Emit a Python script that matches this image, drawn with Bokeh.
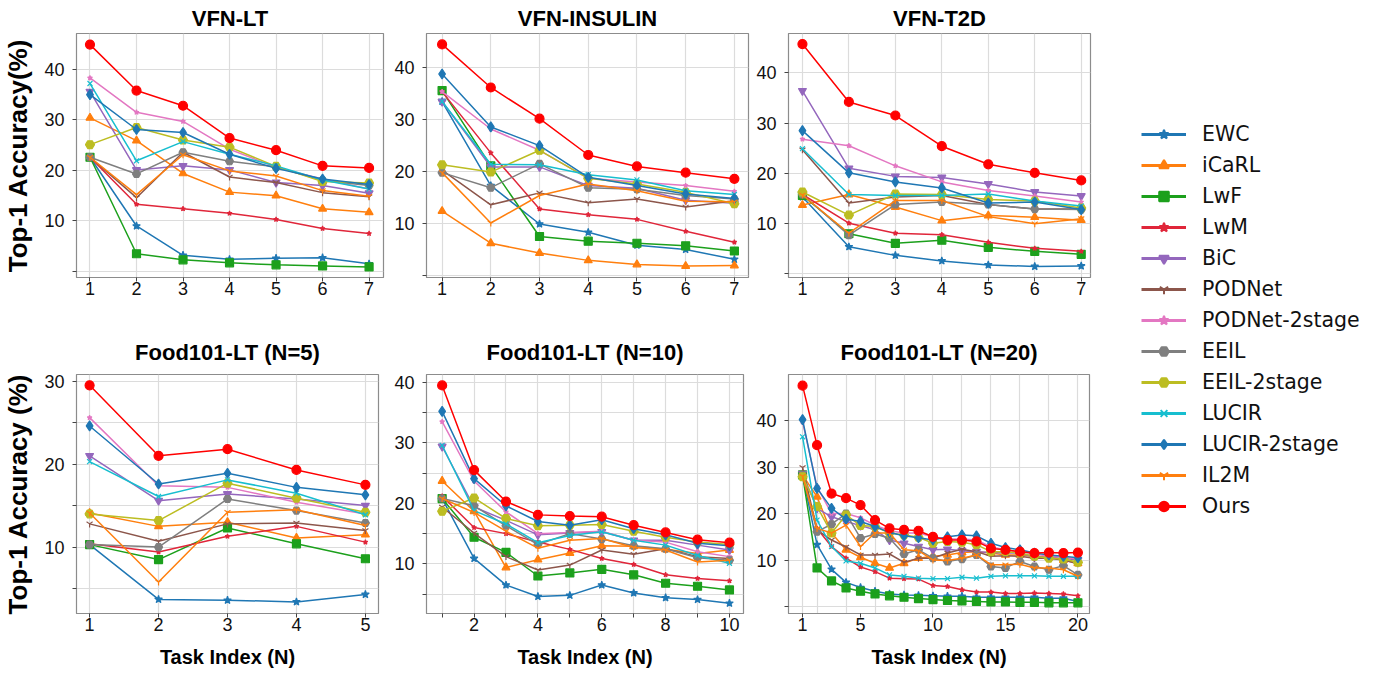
from bokeh.plotting import figure
from bokeh.models import FixedTicker, Range1d, Legend, LegendItem
from bokeh.layouts import row, column
from bokeh.embed import file_html
from bokeh.resources import INLINE

METHODS = ["EWC", "iCaRL", "LwF", "LwM", "BiC", "PODNet", "PODNet-2stage",
           "EEIL", "EEIL-2stage", "LUCIR", "LUCIR-2stage", "IL2M", "Ours"]

TASKS_7 = [1, 2, 3, 4, 5, 6, 7]
TASKS_5 = [1, 2, 3, 4, 5]
TASKS_10 = [1, 2, 3, 4, 5, 6, 7, 8, 9, 10]
TASKS_20 = list(range(1, 21))

VFN_LT = {
    "EWC": [22.6, 9.0, 3.2, 2.4, 2.6, 2.7, 1.5],
    "iCaRL": [30.4, 25.9, 19.4, 15.7, 15.0, 12.4, 11.7],
    "LwF": [22.6, 3.5, 2.3, 1.7, 1.3, 1.1, 0.9],
    "LwM": [22.6, 13.3, 12.4, 11.5, 10.3, 8.5, 7.5],
    "BiC": [35.6, 20.1, 20.9, 20.1, 17.6, 17.0, 15.5],
    "PODNet": [22.6, 14.6, 23.6, 18.7, 17.6, 15.6, 14.8],
    "PODNet-2stage": [38.3, 31.5, 29.7, 24.2, 20.6, 18.3, 16.3],
    "EEIL": [22.6, 19.3, 23.6, 21.8, 20.7, 18.0, 17.0],
    "EEIL-2stage": [25.1, 28.5, 26.0, 24.6, 20.8, 17.8, 17.5],
    "LUCIR": [37.2, 21.9, 25.7, 23.2, 20.9, 18.1, 16.3],
    "LUCIR-2stage": [35.0, 28.1, 27.5, 23.2, 20.4, 18.3, 17.2],
    "IL2M": [22.6, 15.2, 23.1, 19.9, 18.9, 16.0, 14.9],
    "Ours": [44.9, 35.8, 32.8, 26.4, 24.0, 20.9, 20.5],
}

VFN_INSULIN = {
    "EWC": [33.5, 17.3, 9.9, 8.3, 5.8, 5.0, 3.1],
    "iCaRL": [12.4, 6.2, 4.3, 2.9, 2.1, 1.8, 1.9],
    "LwF": [35.6, 21.1, 7.5, 6.6, 6.2, 5.7, 4.7],
    "LwM": [35.4, 23.6, 12.8, 11.7, 10.8, 8.5, 6.4],
    "BiC": [33.5, 20.9, 20.9, 17.3, 16.8, 14.5, 13.9],
    "PODNet": [20.3, 13.6, 15.9, 14.0, 14.7, 13.2, 14.4],
    "PODNet-2stage": [35.4, 28.2, 24.1, 18.7, 18.0, 17.3, 16.2],
    "EEIL": [19.8, 16.9, 21.5, 16.9, 16.6, 15.4, 14.7],
    "EEIL-2stage": [21.3, 19.9, 24.1, 18.7, 17.6, 16.0, 13.8],
    "LUCIR": [33.5, 21.4, 21.3, 19.4, 18.4, 16.3, 15.6],
    "LUCIR-2stage": [38.8, 28.6, 25.0, 18.9, 17.3, 15.7, 14.8],
    "IL2M": [19.8, 10.1, 15.4, 17.6, 16.3, 14.3, 14.2],
    "Ours": [44.5, 36.2, 30.2, 23.2, 21.0, 19.8, 18.6],
}

VFN_T2D = {
    "EWC": [15.3, 5.4, 3.7, 2.6, 1.8, 1.5, 1.6],
    "iCaRL": [13.7, 15.8, 13.3, 10.6, 11.6, 11.3, 10.7],
    "LwF": [15.6, 8.0, 6.1, 6.7, 5.3, 4.5, 3.9],
    "LwM": [15.8, 10.1, 8.1, 7.8, 6.3, 5.1, 4.5],
    "BiC": [36.4, 21.0, 19.4, 19.2, 17.9, 16.3, 15.5],
    "PODNet": [24.7, 14.1, 15.3, 15.6, 13.8, 12.9, 12.9],
    "PODNet-2stage": [26.8, 25.5, 21.5, 18.3, 16.6, 15.5, 14.3],
    "EEIL": [15.8, 7.7, 13.8, 14.3, 13.8, 12.9, 12.8],
    "EEIL-2stage": [16.3, 11.7, 15.9, 15.8, 14.8, 14.5, 13.1],
    "LUCIR": [24.9, 15.8, 15.6, 15.6, 15.9, 14.5, 13.5],
    "LUCIR-2stage": [28.5, 20.1, 18.3, 17.1, 14.1, 14.3, 12.8],
    "IL2M": [15.7, 8.1, 14.6, 14.6, 11.4, 10.0, 11.0],
    "Ours": [45.7, 34.2, 31.5, 25.4, 21.8, 20.1, 18.6],
}

FOOD_N5 = {
    "EWC": [10.3, 3.7, 3.6, 3.4, 4.3],
    "iCaRL": [14.1, 12.5, 13.0, 11.1, 11.5],
    "LwF": [10.3, 8.5, 12.3, 10.4, 8.6],
    "LwM": [10.4, 9.4, 11.3, 12.5, 10.6],
    "BiC": [21.0, 15.6, 16.4, 15.8, 15.0],
    "PODNet": [12.8, 10.7, 12.8, 12.9, 12.0],
    "PODNet-2stage": [25.6, 17.4, 17.2, 15.4, 14.0],
    "EEIL": [10.3, 10.0, 15.8, 14.4, 12.9],
    "EEIL-2stage": [14.0, 13.2, 17.7, 15.9, 14.2],
    "LUCIR": [20.3, 16.1, 18.1, 16.5, 13.9],
    "LUCIR-2stage": [24.6, 17.6, 18.9, 17.2, 16.3],
    "IL2M": [14.1, 5.8, 14.2, 14.5, 12.6],
    "Ours": [29.5, 21.0, 21.8, 19.3, 17.5],
}

FOOD_N10 = {
    "EWC": [20.8, 10.9, 6.5, 4.6, 4.8, 6.5, 5.2, 4.4, 4.1, 3.5],
    "iCaRL": [23.7, 18.7, 9.4, 10.7, 11.8, 13.0, 12.9, 12.4, 11.7, 12.3],
    "LwF": [20.8, 14.4, 11.9, 8.0, 8.5, 9.1, 8.2, 6.8, 6.3, 5.7],
    "LwM": [21.2, 16.0, 15.0, 13.6, 12.4, 10.9, 9.9, 8.2, 7.6, 7.2],
    "BiC": [29.4, 19.4, 17.2, 14.8, 15.1, 15.3, 13.9, 13.9, 13.1, 12.3],
    "PODNet": [19.4, 15.1, 11.2, 9.0, 9.8, 12.3, 11.6, 12.5, 11.2, 10.9],
    "PODNet-2stage": [33.5, 23.7, 18.6, 15.0, 15.2, 15.4, 13.9, 13.6, 12.0, 11.2],
    "EEIL": [20.8, 19.6, 16.3, 13.2, 15.0, 14.1, 13.0, 12.5, 11.0, 10.6],
    "EEIL-2stage": [18.7, 20.9, 17.5, 16.3, 16.4, 16.5, 15.4, 14.4, 13.6, 13.2],
    "LUCIR": [29.6, 18.8, 16.6, 13.5, 14.7, 15.3, 13.9, 13.1, 11.4, 10.1],
    "LUCIR-2stage": [35.2, 24.1, 19.6, 17.0, 16.4, 17.3, 15.8, 14.8, 13.4, 13.0],
    "IL2M": [20.8, 18.5, 15.4, 12.6, 13.9, 14.2, 12.7, 12.3, 10.3, 10.6],
    "Ours": [39.5, 25.5, 20.3, 18.1, 17.9, 17.8, 16.4, 15.2, 14.0, 13.5],
}

FOOD_N20 = {
    "EWC": [28.4, 13.4, 8.1, 5.3, 4.2, 3.4, 2.8, 2.6, 2.5, 2.4,
            2.3, 2.3, 2.1, 2.1, 2.1, 2.1, 2.1, 1.9, 1.9, 1.2],
    "iCaRL": [28.4, 23.7, 15.9, 12.3, 10.7, 9.4, 8.4, 9.4, 10.5, 10.9,
              11.2, 11.7, 11.9, 11.6, 11.2, 11.2, 10.9, 10.7, 10.1, 9.4],
    "LwF": [28.4, 8.4, 5.6, 4.1, 3.4, 2.8, 2.4, 2.1, 1.8, 1.6,
            1.4, 1.3, 1.2, 1.1, 1.1, 1.0, 1.0, 0.9, 0.9, 0.9],
    "LwM": [28.4, 16.9, 13.0, 10.5, 8.6, 7.6, 6.2, 6.1, 6.0, 4.6,
            4.4, 3.7, 3.2, 3.2, 2.9, 2.9, 3.0, 2.9, 2.8, 2.4],
    "BiC": [28.7, 21.2, 19.4, 18.4, 17.5, 16.6, 14.4, 13.7, 13.0, 12.3,
            12.4, 12.1, 11.9, 11.7, 11.6, 11.6, 10.7, 10.7, 10.5, 10.1],
    "PODNet": [30.0, 16.6, 14.4, 12.9, 11.2, 11.2, 11.4, 9.6, 10.5, 10.5,
               11.6, 12.4, 11.9, 10.9, 11.0, 10.9, 10.5, 10.5, 10.1, 9.3],
    "PODNet-2stage": [39.8, 25.9, 20.1, 20.1, 19.2, 17.6, 16.4, 15.9, 15.9, 15.1,
                      14.6, 14.6, 14.4, 12.9, 12.3, 11.9, 11.4, 10.9, 10.7, 10.3],
    "EEIL": [28.4, 16.2, 17.8, 20.1, 14.8, 15.7, 14.8, 11.4, 12.3, 10.5,
             9.8, 10.3, 11.2, 8.7, 8.4, 9.8, 8.7, 8.0, 8.9, 6.9],
    "EEIL-2stage": [28.0, 21.6, 15.9, 19.8, 17.5, 17.3, 15.9, 15.5, 15.0, 13.7,
                    14.1, 13.9, 13.4, 11.9, 11.9, 11.6, 10.9, 10.5, 10.3, 9.6],
    "LUCIR": [36.6, 18.7, 13.0, 9.9, 9.4, 8.4, 6.9, 6.6, 6.2, 6.1,
              6.1, 6.4, 6.2, 6.6, 6.7, 6.7, 6.7, 6.6, 6.6, 6.6],
    "LUCIR-2stage": [40.3, 25.5, 21.2, 18.9, 18.4, 17.3, 16.0, 15.3, 14.9, 14.4,
                     15.1, 15.5, 15.3, 13.7, 12.8, 12.3, 11.6, 11.2, 10.9, 10.6],
    "IL2M": [28.1, 16.9, 15.9, 17.6, 13.0, 15.9, 15.9, 12.3, 12.1, 10.1,
             10.0, 10.5, 11.2, 9.1, 9.1, 9.2, 8.4, 8.4, 8.0, 6.6],
    "Ours": [47.6, 34.8, 24.4, 23.4, 21.9, 18.7, 16.9, 16.6, 16.4, 15.1,
             14.4, 14.4, 14.1, 12.6, 12.3, 11.9, 11.6, 11.7, 11.6, 11.7],
}

# style: colour, marker, plot size, legend size
STYLE = {
    "EWC": ("#1f77b4", "star", 8, 12),
    "iCaRL": ("#ff7f0e", "triangle", 8, 14),
    "LwF": ("#1ca01c", "square", 8, 13),
    "LwM": ("#e0263a", "star", 5, 8),
    "BiC": ("#9467bd", "inverted_triangle", 8, 14),
    "PODNet": ("#8c564b", "y", 7, 11),
    "PODNet-2stage": ("#e377c2", "star", 5, 8),
    "EEIL": ("#7f7f7f", "hex", 8, 13),
    "EEIL-2stage": ("#bcbd22", "hex", 9, 14),
    "LUCIR": ("#17becf", "x", 7, 12),
    "LUCIR-2stage": ("#1f77b4", "diamond", 10, 16),
    "IL2M": ("#ff7f0e", "y", 7, 11),
    "Ours": ("#ff0000", "circle", 9, 14),
}

FONT = "Liberation Sans"


def panel(title, tasks, data, xr, yr, xticks, xhide, xgrid, yticks, yhide,
          fw, fh, left, right, top, bottom, title_standoff,
          ylabel=None, xlabel=None):
    p = figure(frame_width=fw, frame_height=fh,
               x_range=Range1d(*xr), y_range=Range1d(*yr),
               min_border_left=left, min_border_right=right,
               min_border_top=top, min_border_bottom=bottom,
               output_backend="svg", toolbar_location=None, title=title)
    p.title.align = "center"
    p.title.text_font = FONT
    p.title.text_font_size = "22px"
    p.title.text_font_style = "bold"
    p.title.text_color = "#000000"
    p.title.standoff = title_standoff
    p.outline_line_color = "#8c8c8c"
    p.outline_line_width = 1.2

    p.xaxis.ticker = FixedTicker(ticks=xticks)
    p.yaxis.ticker = FixedTicker(ticks=yticks)
    p.xaxis.major_label_overrides = {t: "" for t in xhide}
    p.yaxis.major_label_overrides = {t: "" for t in yhide}
    p.xgrid.ticker = FixedTicker(ticks=xgrid)
    p.ygrid.ticker = FixedTicker(ticks=yticks)
    for ax in (p.xaxis, p.yaxis):
        ax.axis_line_color = "#8c8c8c"
        ax.major_tick_line_color = "#444444"
        ax.major_tick_out = 4
        ax.major_tick_in = 0
        ax.minor_tick_line_color = None
        ax.major_label_text_font = FONT
        ax.major_label_text_font_size = "18px"
        ax.major_label_text_color = "#111111"
        ax.axis_label_text_font = FONT
        ax.axis_label_text_font_style = "bold"
        ax.axis_label_text_color = "#000000"
    p.yaxis.major_label_standoff = 8
    p.xaxis.major_label_standoff = 0
    p.grid.grid_line_color = "#dcdcdc"
    p.grid.grid_line_width = 1.2

    if ylabel:
        p.yaxis.axis_label = ylabel
        p.yaxis.axis_label_text_font_size = "26px"
        p.yaxis.axis_label_standoff = 8
    if xlabel:
        p.xaxis.axis_label = xlabel
        p.xaxis.axis_label_text_font_size = "20px"
        p.xaxis.axis_label_standoff = 12

    for m in METHODS:
        c, mk, sz, _ = STYLE[m]
        p.line(tasks, data[m], line_color=c, line_width=1.5)
        p.scatter(tasks, data[m], marker=mk, size=sz, fill_color=c,
                  line_color=c, line_width=1.2)
    return p


Y10 = [0, 10, 20, 30, 40]
Y5_30 = [5, 10, 15, 20, 25, 30]
Y5_40 = [5, 10, 15, 20, 25, 30, 35, 40]

p1 = panel("VFN-LT", TASKS_7, VFN_LT, (0.71, 7.31), (-1.2, 47.1),
           TASKS_7, [], TASKS_7, Y10, [0],
           307, 244, 70, 8, 31, 51, 6, ylabel="Top-1 Accuracy(%)")
p2 = panel("VFN-INSULIN", TASKS_7, VFN_INSULIN, (0.68, 7.29), (-0.4, 46.6),
           TASKS_7, [], TASKS_7, Y10, [0],
           322, 244, 32, 5, 31, 51, 6)
p3 = panel("VFN-T2D", TASKS_7, VFN_T2D, (0.70, 7.20), (-0.7, 47.8),
           TASKS_7, [], TASKS_7, Y10, [0],
           302, 244, 32, 20, 31, 51, 6)

p4 = panel("Food101-LT (N=5)", TASKS_5, FOOD_N5, (0.81, 5.19), (2.0, 30.8),
           TASKS_5, [], TASKS_5, Y5_30, [5, 15, 25],
           302, 239, 72, 13, 46, 58, 19,
           ylabel="Top-1 Accuracy (%)", xlabel="Task Index (N)")
p5 = panel("Food101-LT (N=10)", TASKS_10, FOOD_N10, (0.51, 10.44), (1.8, 41.3),
           TASKS_10, [1, 3, 5, 7, 9], TASKS_10, Y5_40, [5, 15, 25, 35],
           317, 239, 32, 10, 46, 58, 19, xlabel="Task Index (N)")
p6 = panel("Food101-LT (N=20)", TASKS_20, FOOD_N20, (0.03, 20.8), (-1.4, 50.0),
           [1, 5, 10, 15, 20], [], [1, 2, 4, 6, 8, 10, 12, 14, 16, 18, 20],
           Y10, [0],
           301, 239, 32, 20, 46, 58, 19, xlabel="Task Index (N)")

# legend panel (its dummy renderers lie outside the visible range)
LEG_H = 669
leg = figure(width=269, height=LEG_H, x_range=Range1d(100, 101), y_range=Range1d(100, 101),
             output_backend="svg", toolbar_location=None, min_border=0,
             x_axis_location=None, y_axis_location=None)
leg.grid.visible = False
leg.outline_line_color = None
items = []
for m in METHODS:
    c, mk, _, lsz = STYLE[m]
    lr = leg.line(TASKS_7, VFN_LT[m], line_color=c, line_width=3)
    sr = leg.scatter(TASKS_7[:1], VFN_LT[m][:1], marker=mk, size=lsz,
                     fill_color=c, line_color=c, line_width=2)
    items.append(LegendItem(label=m, renderers=[lr, sr]))
ITEM_H, GAP = 24, 7
legend_total = 13 * ITEM_H + 12 * GAP + 20
legend = Legend(items=items, location=(31, LEG_H - 102 - legend_total),
                glyph_width=45, glyph_height=ITEM_H, label_height=ITEM_H, spacing=GAP,
                label_standoff=16, padding=0, margin=0,
                border_line_color=None, background_fill_alpha=0,
                label_text_font="DejaVu Sans", label_text_font_size="20.5px",
                label_text_color="#111111")
leg.add_layout(legend)

layout = row(column(row(p1, p2, p3), row(p4, p5, p6)), leg)

open("out.html", "w").write(file_html(layout, INLINE))
